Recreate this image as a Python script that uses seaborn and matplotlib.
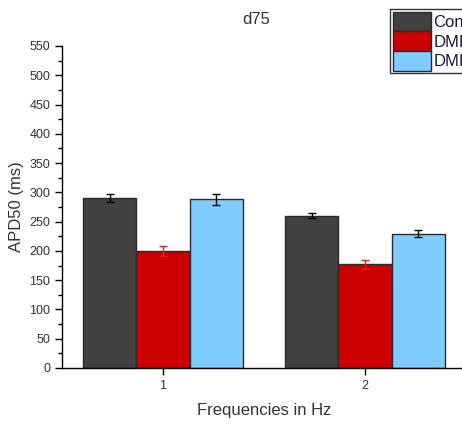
import matplotlib
matplotlib.use("Agg")
import matplotlib.pyplot as plt
import seaborn as sns
import pandas as pd
import numpy as np
from matplotlib.ticker import MultipleLocator

frequencies = ["1", "2"]
groups = ["Control", "DMI", "DMI"]
group_keys = ["Control", "DMI ", "DMI  "]
control = [290, 260]
dmi_a = [200, 177]
dmi_b = [288, 229]
control_err = [7, 4]
dmi_a_err = [8, 8]
dmi_b_err = [9, 6]

colors = ["#404040", "#cc0000", "#80ccff"]
err_colors = ["black", "#e02020", "black"]

sns.set_theme(style="ticks")
plt.rcParams['font.family'] = ['Liberation Sans', 'DejaVu Sans']

df = pd.DataFrame({
    "freq": frequencies * 3,
    "group": [group_keys[0]] * 2 + [group_keys[1]] * 2 + [group_keys[2]] * 2,
    "value": control + dmi_a + dmi_b,
})
errs = [control_err, dmi_a_err, dmi_b_err]

fig = plt.figure(figsize=(4.62, 4.24), dpi=100)
ax = fig.add_axes([62/462, 1-368/424, (466-62)/462, (368-46)/424])

sns.barplot(data=df, x="freq", y="value", hue="group", hue_order=group_keys,
            palette=colors, width=0.79, edgecolor="#2a2a2a", linewidth=1,
            errorbar=None, ax=ax, saturation=1, legend=True)

bar_containers = list(ax.containers)
for gi, cont in enumerate(bar_containers):
    for bi, p in enumerate(cont.patches):
        cx = p.get_x() + p.get_width() / 2
        h = p.get_height()
        ax.errorbar(cx, h, yerr=errs[gi][bi], color=err_colors[gi], capsize=3,
                    elinewidth=1, capthick=1, zorder=5)

ax.set_ylim(0, 550)
ax.set_xlim(-0.5, 1.5)
ax.yaxis.set_major_locator(MultipleLocator(50))
ax.yaxis.set_minor_locator(MultipleLocator(25))
ax.tick_params(axis="both", which="major", direction="out", length=5, width=1,
               labelsize=9, colors="black", labelcolor="#333333")
ax.tick_params(axis="y", which="minor", direction="out", length=3, width=1, colors="black")
for s in ["top", "right"]:
    ax.spines[s].set_visible(False)
for s in ["left", "bottom"]:
    ax.spines[s].set_color("black")
    ax.spines[s].set_linewidth(1)

ax.set_xlabel("Frequencies in Hz", fontsize=12, color="#333333", labelpad=8)
ax.set_ylabel("APD50 (ms)", fontsize=12, color="#333333", labelpad=4)
fig.text(256/462, 1-20/424, "d75", fontsize=12, color="#333333", ha="center", va="center")

handles, _ = ax.get_legend_handles_labels()
leg = ax.legend(handles, groups, loc="upper left", bbox_to_anchor=(390/462, 1-9/424),
                bbox_transform=fig.transFigure, frameon=True, fancybox=False,
                edgecolor="black", fontsize=12, handlelength=2.3, handleheight=1.45,
                borderpad=0.15, labelspacing=0.0, handletextpad=0.15, borderaxespad=0)
leg.get_frame().set_linewidth(1)
for t in leg.get_texts():
    t.set_color("#1a1a3a")

fig.savefig("out.png", dpi=100)
